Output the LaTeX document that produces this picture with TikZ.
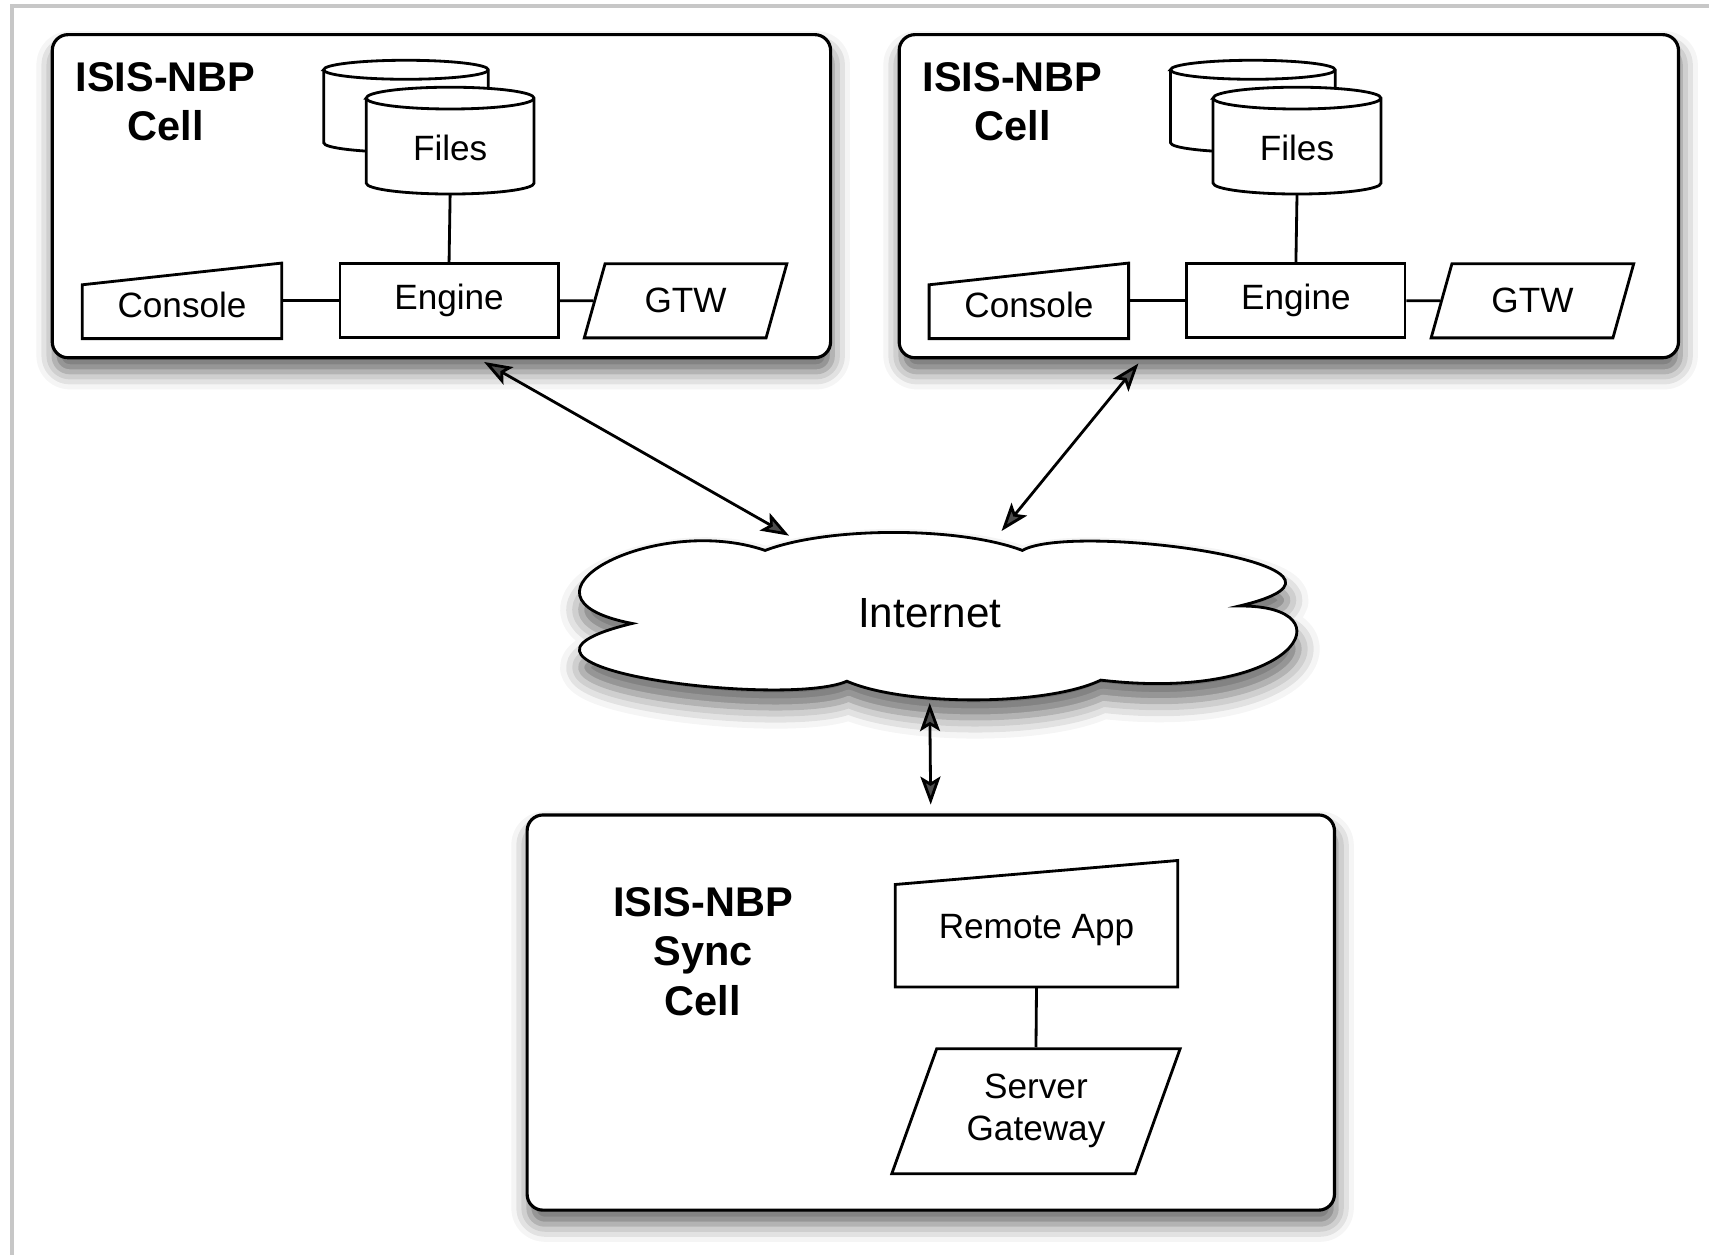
\documentclass[tikz,border=0pt]{standalone}
\usepackage{fontspec}
\setmainfont{Liberation Sans}
\usetikzlibrary{shadows.blur,shapes.geometric,arrows.meta}

\tikzset{
  cellbox/.style={draw, line width=0.9pt, rounded corners=4.5pt, fill=white,
    blur shadow={shadow xshift=0.5pt, shadow yshift=-4pt, shadow blur radius=5pt, shadow opacity=60}},
  celltitle/.style={align=center, font=\fontsize{11.8}{14}\selectfont\bfseries},
  part/.style={draw, line width=0.8pt, fill=white, font=\fontsize{10}{12}\selectfont, inner sep=0pt},
  gate/.style={part, trapezium, trapezium left angle=67, trapezium right angle=113, trapezium stretches=true},
  entry/.style={font=\fontsize{10}{12}\selectfont, inner sep=0pt},
  wire/.style={line width=0.8pt},
  link/.style={line width=0.8pt, {Stealth[length=2.8mm,width=2mm,inset=0.6mm]}-{Stealth[length=2.8mm,width=2mm,inset=0.6mm]}},
}

\begin{document}
\begin{tikzpicture}[x=0.0109cm,y=-0.0109cm]
\useasboundingbox (0,0) rectangle (1568,1151);
\draw[black!22, line width=1pt] (11,1151) -- (11,5.5) -- (1568,5.5);

% left cell
\node[cellbox, minimum width=7.78cm, minimum height=3.23cm] (cellA) at (405,180) {};
\node[celltitle] (titleA) at (152,93) {ISIS-NBP\\Cell};
\draw[wire, fill=white] (297,64) -- (297,131) arc[start angle=180, end angle=360, x radius=0.823cm, y radius=0.095cm]
  -- (448,64) arc[start angle=0, end angle=180, x radius=0.823cm, y radius=0.095cm] -- cycle;
\draw[wire] (297,64) arc[start angle=180, end angle=360, x radius=0.823cm, y radius=0.095cm];
\draw[wire, fill=white] (336,90) -- (336,168) arc[start angle=180, end angle=360, x radius=0.839cm, y radius=0.109cm]
  -- (490,90) arc[start angle=0, end angle=180, x radius=0.839cm, y radius=0.109cm] -- cycle;
\draw[wire] (336,90) arc[start angle=180, end angle=360, x radius=0.839cm, y radius=0.109cm];
\node[entry, minimum width=1.68cm, minimum height=0.916cm] (filesA) at (413,136) {Files};
\node[part, minimum width=2.18cm, minimum height=0.74cm] (engineA) at (412,276) {Engine};
\node[entry, minimum width=1.98cm, minimum height=0.654cm] (consoleA) at (167,280) {Console};
\draw[wire] (consoleA.south west) -- (consoleA.south east) -- ([yshift=0.087cm]consoleA.north east) -- ([yshift=-0.13cm]consoleA.north west) -- cycle;
\node[gate, minimum width=2.03cm, minimum height=0.74cm] (gtwA) at (629,276) {GTW};
\draw[wire] (filesA.south) -- (engineA.north);
\draw[wire] (consoleA.east |- engineA.west) -- (engineA.west);
\draw[wire] (engineA.east) -- (gtwA.west);

% right cell
\node[cellbox, minimum width=7.79cm, minimum height=3.23cm] (cellB) at (1182.5,180) {};
\node[celltitle] (titleB) at (929,93) {ISIS-NBP\\Cell};
\draw[wire, fill=white] (1074,64) -- (1074,131) arc[start angle=180, end angle=360, x radius=0.823cm, y radius=0.095cm]
  -- (1225,64) arc[start angle=0, end angle=180, x radius=0.823cm, y radius=0.095cm] -- cycle;
\draw[wire] (1074,64) arc[start angle=180, end angle=360, x radius=0.823cm, y radius=0.095cm];
\draw[wire, fill=white] (1113,90) -- (1113,168) arc[start angle=180, end angle=360, x radius=0.839cm, y radius=0.109cm]
  -- (1267,90) arc[start angle=0, end angle=180, x radius=0.839cm, y radius=0.109cm] -- cycle;
\draw[wire] (1113,90) arc[start angle=180, end angle=360, x radius=0.839cm, y radius=0.109cm];
\node[entry, minimum width=1.68cm, minimum height=0.916cm] (filesB) at (1190,136) {Files};
\node[part, minimum width=2.18cm, minimum height=0.74cm] (engineB) at (1189,276) {Engine};
\node[entry, minimum width=1.98cm, minimum height=0.654cm] (consoleB) at (944,280) {Console};
\draw[wire] (consoleB.south west) -- (consoleB.south east) -- ([yshift=0.087cm]consoleB.north east) -- ([yshift=-0.13cm]consoleB.north west) -- cycle;
\node[gate, minimum width=2.03cm, minimum height=0.74cm] (gtwB) at (1406,276) {GTW};
\draw[wire] (filesB.south) -- (engineB.north);
\draw[wire] (consoleB.east |- engineB.west) -- (engineB.west);
\draw[wire] (engineB.east) -- (gtwB.west);

% internet cloud
\draw[wire, fill=white, blur shadow={shadow xshift=0.5pt, shadow yshift=-5pt, shadow blur radius=6pt, shadow opacity=60}]
  (702,505) .. controls (760,483) and (880,483) .. (938,505)
  .. controls (985,478) and (1290,520) .. (1137,556)
  .. controls (1240,555) and (1190,645) .. (1010,624)
  .. controls (960,648) and (830,648) .. (777,625)
  .. controls (720,650) and (415,612) .. (580,572)
  .. controls (455,548) and (600,470) .. cycle;
\node[ellipse, minimum width=7.42cm, minimum height=1.67cm, font=\fontsize{12}{14}\selectfont] (net) at (853,563) {Internet};

% sync cell
\node[cellbox, minimum width=8.07cm, minimum height=3.95cm] (sync) at (854,929) {};
\node[celltitle] (titleS) at (645,873) {ISIS-NBP\\Sync\\Cell};
\node[entry, minimum width=2.81cm, minimum height=1.13cm] (remote) at (951,853) {Remote App};
\draw[wire] (remote.south west) -- (remote.south east) -- ([yshift=0.12cm]remote.north east) -- ([yshift=-0.12cm]remote.north west) -- cycle;
\node[gate, minimum width=2.89cm, minimum height=1.25cm, align=center] (server) at (950.5,1019.5) {Server\\Gateway};
\draw[wire] (remote.south) -- (server.north);

\draw[link, shorten <=1.5pt] ([xshift=0.38cm]cellA.south) -- (net.151);
\draw[link, shorten <=1.5pt] ([xshift=-1.47cm]cellB.south) -- (net.49);
\draw[link, shorten <=1.5pt, shorten >=2.5pt] (net.south) -- (sync.north);
\end{tikzpicture}
\end{document}
